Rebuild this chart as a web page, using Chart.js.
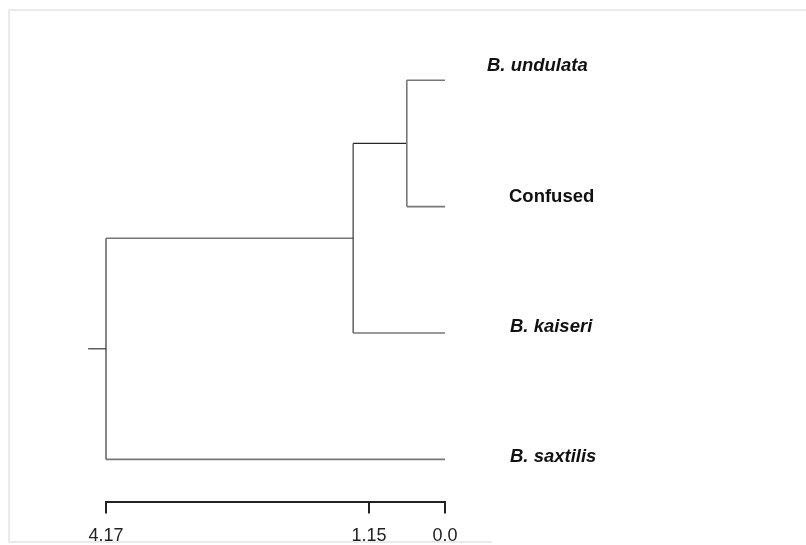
<!DOCTYPE html>
<html>
<head>
<meta charset="utf-8">
<script src="https://cdn.jsdelivr.net/npm/chart.js@4/dist/chart.umd.min.js"></script>
<style>
  html, body { margin: 0; padding: 0; background: #fff; }
  #wrap { width: 806px; height: 545px; position: relative; }
</style>
</head>
<body>
<div id="wrap"><canvas id="c" width="806" height="545"></canvas></div>
<script>
// ---- data ----
const leafNames = ['B. undulata', 'Confused', 'B. kaiseri', 'B. saxtilis'];
const leafItalic = [true, false, true, true];
const leafRows = [4, 3, 2, 1];          // vertical order of leaves (top to bottom)
const leafHeights = [0, 0, 0, 0];       // tips at distance 0
const nodeHeights = [0.47, 1.13, 4.17]; // (undulata,Confused), (+kaiseri), root
const rootStubHeight = 4.39;
const axisTickValues = [4.17, 0.935, 0];
const axisTickLabels = ['4.17', '1.15', '0.0'];

// ---- build tree segments from data ----
const n1Row = (leafRows[0] + leafRows[1]) / 2;
const n2Row = (n1Row + leafRows[2]) / 2;
const rootRow = (n2Row + leafRows[3]) / 2;
const GREY = '#777777', DARK = '#262626';
const segs = [
  // node 1
  {pts: [[leafHeights[0], leafRows[0]], [nodeHeights[0], leafRows[0]]], c: GREY, w: 1.6},
  {pts: [[leafHeights[1], leafRows[1]], [nodeHeights[0], leafRows[1]]], c: GREY, w: 1.6},
  {pts: [[nodeHeights[0], leafRows[0]], [nodeHeights[0], leafRows[1]]], c: GREY, w: 1.6},
  // node 2
  {pts: [[nodeHeights[0], n1Row], [nodeHeights[1], n1Row]], c: DARK, w: 1.1},
  {pts: [[leafHeights[2], leafRows[2]], [nodeHeights[1], leafRows[2]]], c: GREY, w: 1.6},
  {pts: [[nodeHeights[1], n1Row], [nodeHeights[1], leafRows[2]]], c: DARK, w: 1.1},
  // root
  {pts: [[nodeHeights[1], n2Row], [nodeHeights[2], n2Row]], c: GREY, w: 1.6},
  {pts: [[leafHeights[3], leafRows[3]], [nodeHeights[2], leafRows[3]]], c: GREY, w: 1.6},
  {pts: [[nodeHeights[2], n2Row], [nodeHeights[2], leafRows[3]]], c: DARK, w: 1.1},
  {pts: [[nodeHeights[2], rootRow], [rootStubHeight, rootRow]], c: DARK, w: 1.1}
];
const datasets = segs.map(s => ({
  data: s.pts.map(p => ({x: p[0], y: p[1]})),
  showLine: true,
  borderColor: s.c,
  borderWidth: s.w,
  pointRadius: 0,
  fill: false,
  clip: false,
  tension: 0
}));

// ---- label + frame plugin (style only) ----
const labelDx = [42, 64, 65, 65];
const labelDy = [-14, -10, -6, -3];
const decor = {
  id: 'decor',
  beforeDraw(chart) {
    const ctx = chart.ctx;
    ctx.save();
    ctx.strokeStyle = '#e4e4e4';
    ctx.lineWidth = 1.5;
    ctx.beginPath();
    ctx.moveTo(806, 10); ctx.lineTo(9, 10); ctx.lineTo(9, 542); ctx.lineTo(492, 542);
    ctx.stroke();
    ctx.restore();
  },
  afterDatasetsDraw(chart) {
    const ctx = chart.ctx;
    const xs = chart.scales.x, ys = chart.scales.y;
    ctx.save();
    ctx.fillStyle = '#111';
    ctx.textBaseline = 'middle';
    ctx.textAlign = 'left';
    leafNames.forEach((name, i) => {
      ctx.font = (leafItalic[i] ? 'italic ' : '') + 'bold 18.5px "Liberation Sans", Arial, sans-serif';
      const x = xs.getPixelForValue(leafHeights[i]) + labelDx[i];
      const y = ys.getPixelForValue(leafRows[i]) + labelDy[i];
      ctx.fillText(name, x, y);
    });
    ctx.restore();
  }
};

new Chart(document.getElementById('c'), {
  type: 'scatter',
  data: { datasets },
  options: {
    responsive: false,
    animation: false,
    events: [],
    layout: { padding: { left: 106, right: 361, top: 17, bottom: -14 } },
    plugins: { legend: { display: false }, tooltip: { enabled: false } },
    scales: {
      x: {
        type: 'linear',
        reverse: true,
        min: 0,
        max: 4.17,
        afterBuildTicks(scale) { scale.ticks = axisTickValues.map(v => ({ value: v })); },
        ticks: {
          autoSkip: false,
          maxRotation: 0,
          padding: 12,
          color: '#222',
          font: { family: '"Liberation Sans", Arial, sans-serif', size: 18 },
          callback(value) {
            const i = axisTickValues.indexOf(value);
            return i >= 0 ? axisTickLabels[i] : '';
          }
        },
        grid: { drawOnChartArea: false, drawTicks: true, tickLength: 11, color: '#222', lineWidth: 2 },
        border: { display: true, color: '#222', width: 2 }
      },
      y: {
        type: 'linear',
        display: false,
        min: 0.66,
        max: 4.5
      }
    }
  },
  plugins: [decor]
});
</script>
</body>
</html>
